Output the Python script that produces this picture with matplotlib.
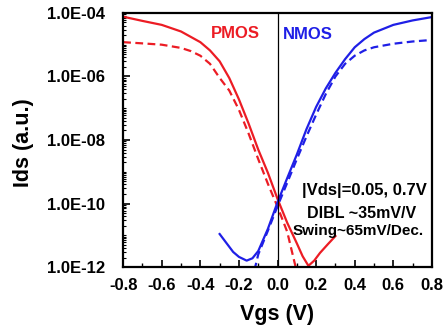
#Id-Vg transfer curves for PMOS and NMOS (log scale), two drain biases each
import matplotlib
matplotlib.use("Agg")
import matplotlib.pyplot as plt
from matplotlib.ticker import FixedLocator, FixedFormatter

plt.rcParams['font.family'] = ['Liberation Sans', 'DejaVu Sans']
plt.rcParams['font.weight'] = 'bold'

#PMOS, |Vds| = 0.05 V (solid) and 0.7 V (dashed)
pmos_lin_vgs = [-0.80, -0.70, -0.60, -0.50, -0.40, -0.35, -0.30, -0.25, -0.20, -0.15,
                -0.10, -0.05, 0.00, 0.05, 0.10, 0.13, 0.16, 0.19, 0.22, 0.26, 0.30]
pmos_lin_ids = [7.6e-05, 5.6e-05, 4.2e-05, 2.6e-05, 1.2e-05, 6.6e-06, 3.0e-06, 8.9e-07, 1.9e-07, 3.3e-08,
                5.0e-09, 9.3e-10, 1.4e-10, 2.5e-11, 5.6e-12, 2.2e-12, 1.1e-12, 1.6e-12, 2.8e-12, 5.2e-12, 9.5e-12]
pmos_sat_vgs = [-0.80, -0.70, -0.60, -0.50, -0.45, -0.40, -0.35, -0.30, -0.25, -0.20,
                -0.15, -0.10, -0.05, 0.00, 0.05, 0.10]
pmos_sat_ids = [1.2e-05, 1.1e-05, 1.0e-05, 7.9e-06, 6.3e-06, 4.5e-06, 2.5e-06, 9.0e-07, 3.6e-07, 8.9e-08,
                1.6e-08, 2.5e-09, 4.2e-10, 7.9e-11, 1.3e-11, 7.0e-13]

#NMOS, |Vds| = 0.05 V (solid) and 0.7 V (dashed)
nmos_lin_vgs = [-0.30, -0.27, -0.23, -0.20, -0.16, -0.13, -0.10, -0.05, 0.00, 0.05,
                0.10, 0.15, 0.20, 0.25, 0.30, 0.35, 0.40, 0.45, 0.50, 0.60, 0.70, 0.80]
nmos_lin_ids = [1.1e-11, 6.3e-12, 3.0e-12, 2.1e-12, 1.6e-12, 1.9e-12, 3.2e-12, 1.6e-11, 1.1e-10, 6.3e-10,
                3.5e-09, 2.2e-08, 1.1e-07, 4.2e-07, 1.3e-06, 3.5e-06, 8.3e-06, 1.5e-05, 2.4e-05, 4.2e-05, 5.8e-05, 7.4e-05]
nmos_sat_vgs = [-0.12, -0.10, -0.05, 0.00, 0.05, 0.10, 0.15, 0.20, 0.25, 0.30,
                0.35, 0.40, 0.45, 0.50, 0.60, 0.70, 0.80]
nmos_sat_ids = [7.9e-13, 2.5e-12, 1.4e-11, 8.3e-11, 4.5e-10, 2.5e-09, 1.3e-08, 6.3e-08, 2.8e-07, 1.0e-06,
                2.5e-06, 4.5e-06, 6.6e-06, 8.3e-06, 1.07e-05, 1.26e-05, 1.41e-05]

x_ticks = [-0.8, -0.6, -0.4, -0.2, 0.0, 0.2, 0.4, 0.6, 0.8]
x_labels = ['-0.8', '-0.6', '-0.4', '-0.2', '0.0', '0.2', '0.4', '0.6', '0.8']
y_ticks = [1e-12, 1e-10, 1e-08, 1e-06, 1e-04]
y_labels = ['1.0E-12', '1.0E-10', '1.0E-08', '1.0E-06', '1.0E-04']

red = '#ec1c24'
blue = '#1f1fe6'

fig = plt.figure(figsize=(4.43, 3.31), dpi=100)
ax = fig.add_axes([0.278, 0.193, 0.697, 0.768])

ax.plot(pmos_lin_vgs, pmos_lin_ids, color=red, lw=1.6)
ax.plot(pmos_sat_vgs, pmos_sat_ids, color=red, lw=1.6, dashes=(3.5, 2))
ax.plot(nmos_lin_vgs, nmos_lin_ids, color=blue, lw=1.6)
ax.plot(nmos_sat_vgs, nmos_sat_ids, color=blue, lw=1.6, dashes=(3.5, 2))
ax.axvline(0, color='black', lw=0.9)

ax.set_yscale('log')
ax.set_xlim(-0.8, 0.8)
ax.set_ylim(1e-12, 1e-04)

#ticks
ax.xaxis.set_major_locator(FixedLocator(x_ticks))
ax.xaxis.set_major_formatter(FixedFormatter(x_labels))
ax.xaxis.set_minor_locator(FixedLocator([-0.7, -0.5, -0.3, -0.1, 0.1, 0.3, 0.5, 0.7]))
ax.yaxis.set_major_locator(FixedLocator(y_ticks))
ax.yaxis.set_major_formatter(FixedFormatter(y_labels))
minor_y = [m * 10.0 ** k for k in range(-12, -4) for m in range(1, 10) if not (m == 1 and k % 2 == 0)]
ax.yaxis.set_minor_locator(FixedLocator(minor_y))
ax.yaxis.set_minor_formatter(FixedFormatter([]))
ax.tick_params(which='both', direction='in', top=False, right=False)
ax.tick_params(axis='x', which='major', length=5, width=1.2, pad=8, labelsize=12)
ax.tick_params(axis='x', which='minor', length=3, width=1)
ax.tick_params(axis='y', which='major', length=5, width=1.2, pad=13, labelsize=12)
ax.tick_params(axis='y', which='minor', length=2.5, width=0.8)
for s in ax.spines.values():
    s.set_linewidth(1.6)

ax.set_xlabel('Vgs (V)', fontsize=15.5, fontweight='bold', labelpad=8)
ax.set_ylabel('Ids (a.u.)', fontsize=15.5, fontweight='bold')
ax.yaxis.set_label_coords(-0.29, 0.49)

#annotations
ax.text(-0.22, 2.2e-05, 'PMOS', color=red, fontsize=12, fontweight='bold', ha='center', va='center')
ax.text(0.155, 2.1e-05, 'NMOS', color=blue, fontsize=12, fontweight='bold', ha='center', va='center')
ax.text(0.45, 2.66e-10, '|Vds|=0.05, 0.7V', fontsize=12, fontweight='bold', ha='center', va='center')
ax.text(0.435, 4.7e-11, 'DIBL ~35mV/V', fontsize=11.5, fontweight='bold', ha='center', va='center')
ax.text(0.42, 1.35e-11, 'Swing~65mV/Dec.', fontsize=11, fontweight='bold', ha='center', va='center')

fig.savefig('out.png', dpi=100)
